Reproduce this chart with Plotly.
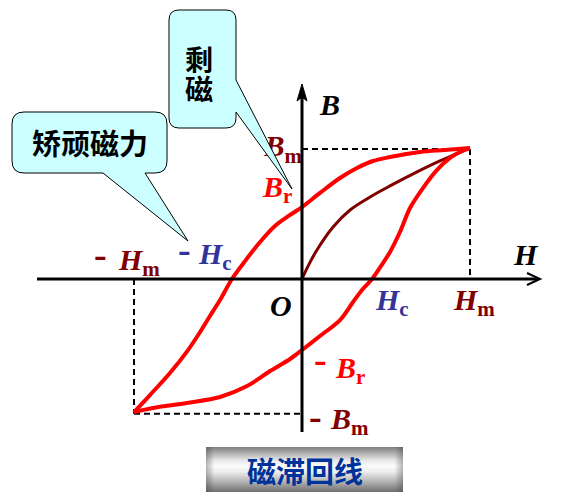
import plotly.graph_objects as go

# ---------------- data (H in % of Hm, B in % of Bm) ----------------
H_upper = [-100.0, -90.5, -78.6, -68.5, -60.7, -54.8, -48.8, -41.7, -33.9, -25.0, -16.1,
           -7.1, 0.0, 10.7, 22.6, 32.7, 42.3, 52.4, 70.2, 85.1, 100.0]
B_upper = [-100.8, -87.9, -71.2, -55.0, -40.2, -28.0, -15.9, 0.0, 13.6, 28.0, 40.2,
           48.5, 54.5, 65.2, 76.5, 84.1, 89.4, 92.4, 96.2, 97.7, 99.2]

H_lower = [-100.0, -88.7, -68.5, -48.8, -32.7, -19.0, -7.1, 0.0, 10.7, 22.6, 30.4,
           35.7, 41.7, 47.0, 52.4, 58.3, 64.3, 72.0, 80.4, 88.1, 95.2, 100.0]
B_lower = [-100.8, -97.7, -93.9, -89.4, -81.1, -69.7, -60.6, -53.8, -43.2, -31.1, -17.4,
           -8.3, 0.0, 9.8, 20.5, 35.6, 53.8, 68.9, 82.6, 91.7, 97.0, 99.2]

H_init = [0.0, 3.6, 8.9, 18.5, 28.6, 40.5, 52.4, 68.5, 82.1, 100.0]
B_init = [0.0, 9.8, 22.0, 39.4, 52.3, 62.1, 70.5, 81.1, 89.4, 99.2]

H_M = 100.0
B_M_POS = 98.5
B_M_NEG = -102.0

# ---------------- layout helpers ----------------
W, HGT = 566, 500
OX, OY = 302, 279          # pixel position of origin
SX, SY = 1.68, 1.32        # pixels per unit


def X(px):
    return (px - OX) / SX


def Y(py):
    return (OY - py) / SY


def path_px(points):
    out = []
    for cmd, pts in points:
        if cmd == "Z":
            out.append("Z")
            continue
        coords = " ".join(f"{X(a):.3f},{Y(b):.3f}" for a, b in pts)
        out.append(f"{cmd} {coords}")
    return " ".join(out)


RED = "#FF0000"
DARKRED = "#800000"
BLUE = "#333399"
SERIF = "Liberation Serif"
CJK = "Noto Sans CJK SC"
LS = 30  # label font size

fig = go.Figure()

# dashed guides
for xs, ys in [([0, H_M], [B_M_POS, B_M_POS]), ([H_M, H_M], [B_M_POS, 0]),
               ([-H_M, -H_M], [0, B_M_NEG]), ([-H_M, 0], [B_M_NEG, B_M_NEG])]:
    fig.add_trace(go.Scatter(x=xs, y=ys, mode="lines",
                             line=dict(color="black", width=2, dash="6px,4px"),
                             hoverinfo="skip", showlegend=False))

# initial magnetisation curve
fig.add_trace(go.Scatter(x=H_init, y=B_init, mode="lines",
                         line=dict(color=DARKRED, width=3, shape="spline", smoothing=1.0),
                         hoverinfo="skip", showlegend=False))
# hysteresis branches
fig.add_trace(go.Scatter(x=H_upper, y=B_upper, mode="lines",
                         line=dict(color=RED, width=4, shape="spline", smoothing=1.0),
                         hoverinfo="skip", showlegend=False))
fig.add_trace(go.Scatter(x=H_lower, y=B_lower, mode="lines",
                         line=dict(color=RED, width=4, shape="spline", smoothing=0.9),
                         hoverinfo="skip", showlegend=False))

# Bm label as a text trace (so that the callout tail can cover it)
fig.add_trace(go.Scatter(x=[0], y=[B_M_POS], mode="text",
                         text=["<b><i>B</i><sub>m</sub></b>"],
                         textposition="middle left",
                         textfont=dict(family=SERIF, size=LS, color=DARKRED),
                         hoverinfo="skip", showlegend=False))

shapes = []
# axes
shapes.append(dict(type="line", xref="x", yref="y", x0=X(37), y0=0, x1=X(538), y1=0,
                   line=dict(color="black", width=3)))
shapes.append(dict(type="path", xref="x", yref="y",
                   path=path_px([("M", [(527, 273)]), ("L", [(540, 279)]), ("L", [(527, 285)])]),
                   line=dict(color="black", width=2)))
shapes.append(dict(type="line", xref="x", yref="y", x0=0, y0=Y(432), x1=0, y1=Y(95),
                   line=dict(color="black", width=3)))
shapes.append(dict(type="path", xref="x", yref="y",
                   path=path_px([("M", [(302, 84)]), ("L", [(307, 101)]), ("L", [(302, 97)]),
                                 ("L", [(297, 101)]), ("Z", [])]),
                   fillcolor="black", line=dict(color="black", width=1)))

# callout 1: 剩磁
c1 = [("M", [(179, 10)]), ("L", [(226, 10)]), ("Q", [(236, 10), (236, 20)]),
      ("L", [(236, 80)]), ("L", [(292, 189)]), ("L", [(236, 112)]),
      ("L", [(236, 118)]), ("Q", [(236, 128), (226, 128)]), ("L", [(179, 128)]),
      ("Q", [(169, 128), (169, 118)]), ("L", [(169, 20)]), ("Q", [(169, 10), (179, 10)]), ("Z", [])]
shapes.append(dict(type="path", xref="x", yref="y", path=path_px(c1), layer="above",
                   fillcolor="#CCFFFF", line=dict(color="black", width=1)))
# callout 2: 矫顽磁力
c2 = [("M", [(24, 112)]), ("L", [(155, 112)]), ("Q", [(167, 112), (167, 124)]),
      ("L", [(167, 161)]), ("Q", [(167, 173), (155, 173)]), ("L", [(145, 173)]),
      ("L", [(188, 241)]), ("L", [(103, 173)]), ("L", [(24, 173)]),
      ("Q", [(12, 173), (12, 161)]), ("L", [(12, 124)]), ("Q", [(12, 112), (24, 112)]), ("Z", [])]
shapes.append(dict(type="path", xref="x", yref="y", path=path_px(c2), layer="above",
                   fillcolor="#CCFFFF", line=dict(color="black", width=1)))

# metallic title button (vertical gradient)
top, bot, left, right = 447, 492, 206, 403
stops = [(0.0, 125), (0.12, 170), (0.3, 232), (0.42, 252), (0.55, 238), (0.75, 185),
         (0.9, 140), (1.0, 112)]


def gray(t):
    for (t0, g0), (t1, g1) in zip(stops[:-1], stops[1:]):
        if t0 <= t <= t1:
            return g0 + (g1 - g0) * (t - t0) / (t1 - t0)
    return stops[-1][1]


n = bot - top
for i in range(n):
    g = int(round(gray((i + 0.5) / n)))
    shapes.append(dict(type="rect", xref="x", yref="y", layer="above",
                       x0=X(left), x1=X(right), y0=Y(top + i), y1=Y(top + i + 1.05),
                       fillcolor=f"rgb({g},{g},{g})", line=dict(width=0)))
for k in range(8):
    a = 0.35 * (1 - k / 8)
    for xa, xb in [(left + k, left + k + 1), (right - k - 1, right - k)]:
        shapes.append(dict(type="rect", xref="x", yref="y", layer="above",
                           x0=X(xa), x1=X(xb), y0=Y(bot), y1=Y(top),
                           fillcolor=f"rgba(60,60,60,{a:.3f})", line=dict(width=0)))

annotations = []


def label(px, py, text, color, size=LS, xanchor="center", family=SERIF):
    annotations.append(dict(x=X(px), y=Y(py), xref="x", yref="y", text=text,
                            showarrow=False, xanchor=xanchor, yanchor="middle",
                            font=dict(family=family, size=size, color=color)))


label(329, 104, "<b><i>B</i></b>", "black")
label(526, 254, "<b><i>H</i></b>", "black")
label(281, 305, "<b><i>O</i></b>", "black")
label(294, 189, "<b><i>B</i><sub>r</sub></b>", RED, xanchor="right")
label(100, 254, "<b>-</b>", DARKRED, size=38)
label(116, 262, "<b><i>H</i><sub>m</sub></b>", DARKRED, xanchor="left")
label(184, 249, "<b>-</b>", BLUE, size=38)
label(196, 256, "<b><i>H</i><sub>c</sub></b>", BLUE, xanchor="left")
label(373, 302, "<b><i>H</i><sub>c</sub></b>", BLUE, xanchor="left")
label(451, 302, "<b><i>H</i><sub>m</sub></b>", DARKRED, xanchor="left")
label(320, 359, "<b>-</b>", RED, size=38)
label(333, 370, "<b><i>B</i><sub>r</sub></b>", RED, xanchor="left")
label(315, 416, "<b>-</b>", DARKRED, size=38)
label(328, 421, "<b><i>B</i><sub>m</sub></b>", DARKRED, xanchor="left")

label(199, 59, "<b>剩</b>", "black", size=28, family=CJK)
label(199, 88, "<b>磁</b>", "black", size=28, family=CJK)
label(90, 142, "<b>矫顽磁力</b>", "black", size=29, family=CJK)
label(305, 470, "<b>磁滞回线</b>", "#003399", size=29, family=CJK)

fig.update_layout(
    width=W, height=HGT, autosize=False,
    margin=dict(l=0, r=0, t=0, b=0, pad=0),
    paper_bgcolor="white", plot_bgcolor="white",
    xaxis=dict(range=[X(0), X(W)], visible=False, fixedrange=True),
    yaxis=dict(range=[Y(HGT), Y(0)], visible=False, fixedrange=True),
    shapes=shapes, annotations=annotations, showlegend=False,
)

fig.write_html("out.html", config={"displayModeBar": False},
               post_script="document.body.style.margin='0px';document.body.style.overflow='hidden';")
